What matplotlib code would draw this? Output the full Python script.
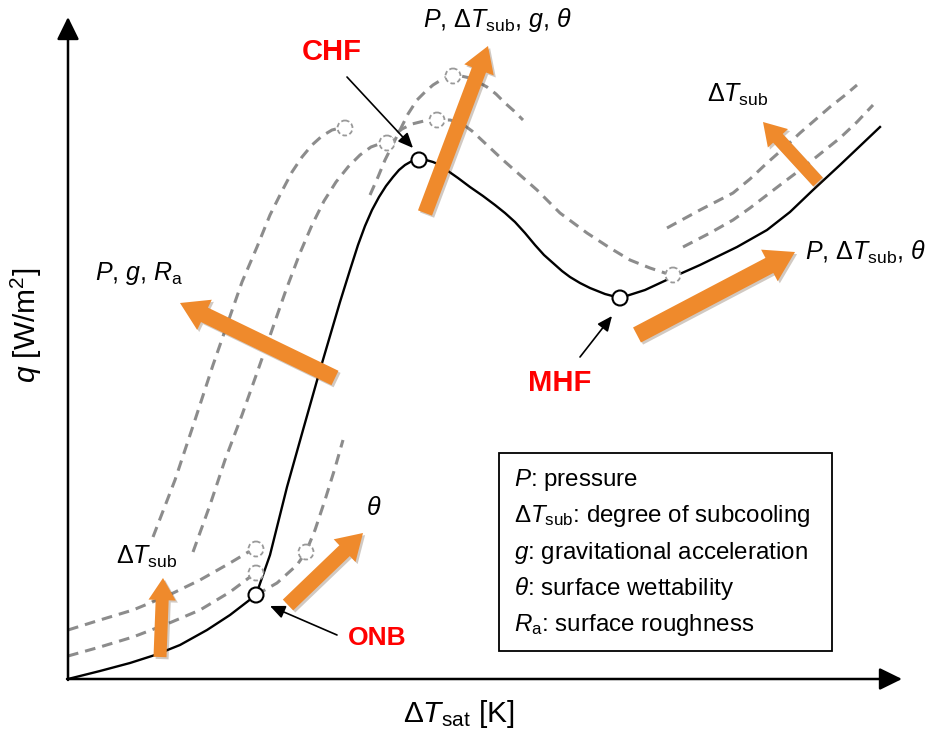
import numpy as np
import matplotlib.pyplot as plt
from matplotlib.patches import FancyArrow, Circle, Rectangle
import matplotlib.patheffects as pe

plt.rcParams['font.family'] = ['Liberation Sans', 'DejaVu Sans']
plt.rcParams['mathtext.fontset'] = 'custom'
plt.rcParams['mathtext.rm'] = 'Liberation Sans'
plt.rcParams['mathtext.it'] = 'Liberation Sans:italic'
plt.rcParams['mathtext.bf'] = 'Liberation Sans:bold'

# boiling curve (solid), screen-like coordinates, y grows downwards
base_x = [68, 100, 130, 155, 180, 207, 230, 256, 270, 287, 303, 320, 330, 340, 350, 358,
          365, 372, 379, 386, 393, 399, 405, 412, 419, 426, 433, 440, 448, 458, 470, 483,
          495, 505, 515, 525, 535, 544, 553, 562, 570, 580, 590, 605, 620,
          645, 673, 700, 737, 767, 790, 813, 840, 860, 880]
base_y = [679, 671, 663, 655, 645, 630, 615, 595, 555, 487, 430, 370, 336, 302, 270, 245,
          226, 210, 197, 186, 177, 170, 165, 161, 160, 160, 162, 165, 171, 178, 187, 196,
          205, 213, 222, 233, 245, 255, 263, 271, 277, 283, 288, 294, 298,
          290, 277, 265, 247, 230, 212, 190, 165, 146, 127]

# shifted curves (dashed)
shift_curves = {
    'subcool_low': ([68, 100, 133, 167, 200, 230, 250],
                    [656, 647, 637, 624, 610, 592, 577]),
    'subcool_high': ([68, 100, 133, 167, 200, 230, 250],
                     [630, 620, 610, 596, 580, 563, 551]),
    'wet': ([256, 277, 297, 306, 315, 325, 335, 343],
            [595, 583, 565, 552, 530, 500, 468, 440]),
    'chf_left1': ([153, 175, 195, 213, 228, 242, 257, 270, 282, 292, 302, 312, 322, 332, 340],
                  [537, 480, 420, 365, 322, 282, 247, 215, 191, 172, 157, 145, 136, 130, 128]),
    'chf_left2': ([193, 210, 225, 242, 258, 272, 286, 300, 312, 324, 336, 348, 360, 371, 382],
                  [552, 505, 460, 415, 370, 330, 290, 253, 225, 201, 182, 167, 155, 147, 143]),
    'chf_up1': ([385, 393, 402, 412, 424, 437, 450, 461, 472, 487, 503, 520, 537, 560, 587,
                 610, 630, 650, 668],
                [145, 136, 129, 124, 121, 120, 120, 123, 131, 145, 160, 175, 190, 213, 233,
                 248, 260, 268, 274]),
    'chf_up2': ([370, 378, 385, 393, 400, 408, 417, 425, 433, 441, 447, 453, 461, 470, 478,
                 487, 496, 505, 514, 523],
                [195, 177, 160, 144, 130, 114, 100, 92, 85, 80, 77, 76, 76, 78, 82,
                 87, 94, 103, 111, 120]),
    'film1': ([683, 710, 733, 750, 767, 784, 800, 820, 840, 857, 873],
              [247, 233, 220, 208, 195, 182, 170, 154, 138, 122, 105]),
    'film2': ([667, 700, 733, 750, 767, 784, 800, 815, 830, 844, 857],
              [228, 210, 193, 179, 163, 148, 133, 120, 107, 96, 85]),
}

# key points
onb = (256, 595)
chf = (419, 160)
mhf = (620, 298)
ghost_pts_x = [256, 256, 306, 345, 387, 437, 453, 673]
ghost_pts_y = [549, 573, 552, 128, 143, 120, 76, 275]

# trend arrows: tail (x, y), head (x, y), shaft width
trend_tail = [(160, 657), (288, 605), (335, 378), (425, 213), (637, 335), (818, 182)]
trend_head = [(163, 578), (363, 533), (180, 303), (488, 46), (795, 252), (763, 122)]
trend_width = [13, 15, 16, 15, 17, 13]

legend_lines = ['$P$: pressure',
                r'$\Delta T_{\rm sub}$: degree of subcooling',
                '$g$: gravitational acceleration',
                r'$\theta$: surface wettability',
                r'$R_{\rm a}$: surface roughness']

fig = plt.figure(figsize=(9.39, 7.35), dpi=100)
ax = fig.add_axes([0, 0, 1, 1])
ax.set_xlim(0, 939)
ax.set_ylim(735, 0)
ax.axis('off')

# axes with arrowheads
ax.annotate('', xy=(68, 17), xytext=(68, 680),
            arrowprops=dict(arrowstyle='-|>,head_length=0.55,head_width=0.27',
                            lw=1.8, color='black', mutation_scale=25, shrinkA=0, shrinkB=0))
ax.annotate('', xy=(902, 679), xytext=(67, 679),
            arrowprops=dict(arrowstyle='-|>,head_length=0.55,head_width=0.27',
                            lw=1.8, color='black', mutation_scale=25, shrinkA=0, shrinkB=0))

gray = '#8C8C8C'
for xs, ys in shift_curves.values():
    ax.plot(xs, ys, color=gray, lw=2.2, dashes=(3.5, 2.3), solid_capstyle='butt', zorder=2)

ax.plot(base_x, base_y, color='black', lw=1.7, zorder=3, solid_joinstyle='round')

for gx, gy in zip(ghost_pts_x, ghost_pts_y):
    ax.add_patch(Circle((gx, gy), 7.5, facecolor='white', edgecolor='#999999',
                        lw=1.3, ls=(0, (2.5, 1.5)), zorder=4))

for px, py in (onb, chf, mhf):
    ax.add_patch(Circle((px, py), 7.5, facecolor='white', edgecolor='black', lw=1.5, zorder=6))

orange = '#EF8A2C'
for (tx, ty), (hx, hy), w in zip(trend_tail, trend_head, trend_width):
    arr = FancyArrow(tx, ty, hx - tx, hy - ty, width=w, head_width=w * 2.1,
                     head_length=w * 1.7, length_includes_head=True,
                     facecolor=orange, edgecolor='none', zorder=5)
    arr.set_path_effects([pe.SimplePatchShadow(offset=(1.5, -1.5), alpha=0.25), pe.Normal()])
    ax.add_patch(arr)

# point labels with pointer arrows
red = '#FF0000'
ax.text(302, 52, 'CHF', color=red, fontsize=21, fontweight='bold', va='center', ha='left')
ax.text(528, 383, 'MHF', color=red, fontsize=21, fontweight='bold', va='center', ha='left')
ax.text(348, 638, 'ONB', color=red, fontsize=19, fontweight='bold', va='center', ha='left')
ptr = dict(arrowstyle='-|>,head_length=0.5,head_width=0.22', lw=1.2, color='black',
           mutation_scale=18, shrinkA=0, shrinkB=0)
ax.annotate('', xy=(413, 148), xytext=(347, 77), arrowprops=ptr, zorder=7)
ax.annotate('', xy=(612, 316), xytext=(580, 357), arrowprops=ptr, zorder=7)
ax.annotate('', xy=(270, 606), xytext=(337, 635), arrowprops=ptr, zorder=7)

# parameter labels
fs = 18
ax.text(423, 20, r'$P$, $\Delta T_{\rm sub}$, $g$, $\theta$', fontsize=fs, va='center', ha='left')
ax.text(707, 95, r'$\Delta T_{\rm sub}$', fontsize=fs, va='center', ha='left')
ax.text(805, 252, r'$P$, $\Delta T_{\rm sub}$, $\theta$', fontsize=fs, va='center', ha='left')
ax.text(95, 273, r'$P$, $g$, $R_{\rm a}$', fontsize=fs, va='center', ha='left')
ax.text(366, 508, r'$\theta$', fontsize=fs, va='center', ha='left')
ax.text(116, 557, r'$\Delta T_{\rm sub}$', fontsize=fs, va='center', ha='left')

# axis labels
ax.text(459, 714, r'$\Delta T_{\rm sat}$ [K]', fontsize=21.5, va='center', ha='center')
ax.text(26, 325, r'$q$ [W/m$^2$]', fontsize=21.5, va='center', ha='center', rotation=90)

# legend box
ax.add_patch(Rectangle((499, 453), 333, 198, facecolor='white', edgecolor='black', lw=1.3, zorder=8))
for i, line in enumerate(legend_lines):
    ax.text(514, 480 + i * 36.3, line, fontsize=17.4, va='center', ha='left', zorder=9)

fig.savefig('out.png', dpi=100)
